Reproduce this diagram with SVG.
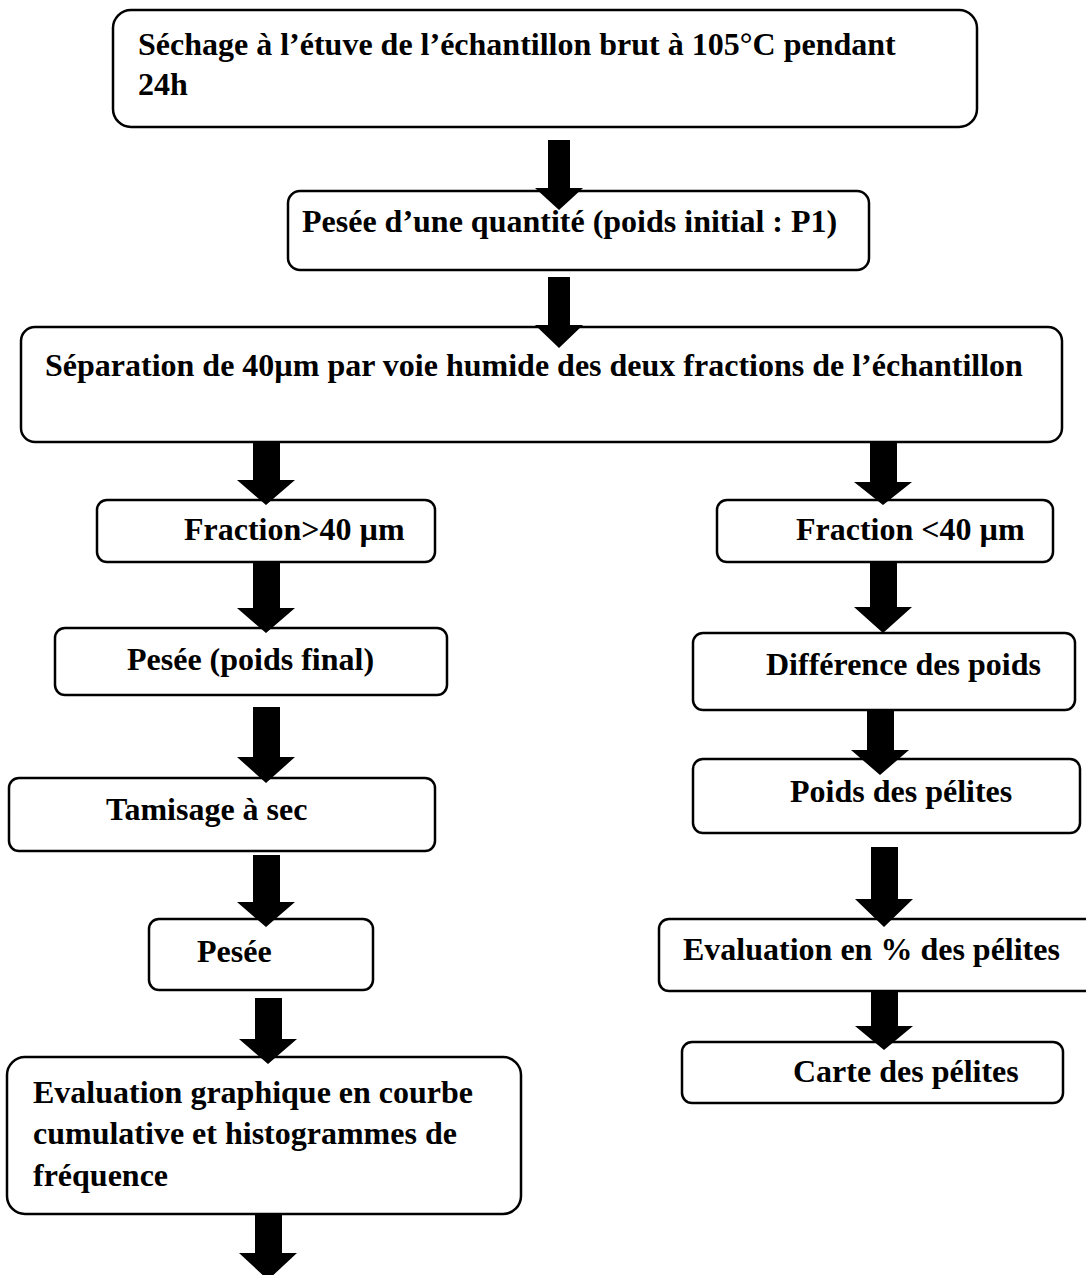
<svg xmlns="http://www.w3.org/2000/svg" width="1086" height="1275" viewBox="0 0 1086 1275">
<style>
.box{fill:#fff;stroke:#000;stroke-width:2.5}
.t{font-family:"Liberation Serif","Times New Roman",serif;font-weight:bold;font-size:32px;fill:#000}
.arr{fill:#000}
</style>
<rect width="1086" height="1275" fill="#fff"/>
<g id="n1"><rect class="box" x="113" y="10" width="864" height="117" rx="18"/>
<text class="t" x="138" y="55">Séchage à l’étuve de l’échantillon brut à 105°C pendant</text>
<text class="t" x="138" y="95">24h</text></g>
<g id="n2"><rect class="box" x="288" y="191" width="581" height="79" rx="12"/>
<text class="t" x="302" y="232">Pesée d’une quantité (poids initial : P1)</text></g>
<g id="n3"><rect class="box" x="21" y="327" width="1041" height="115" rx="14"/>
<text class="t" x="45" y="376">Séparation de 40µm par voie humide des deux fractions de l’échantillon</text></g>
<g id="n4"><rect class="box" x="97" y="500" width="338" height="62" rx="10"/>
<text class="t" x="184" y="540">Fraction&gt;40 µm</text></g>
<g id="n5"><rect class="box" x="717" y="500" width="336" height="62" rx="10"/>
<text class="t" x="796" y="540">Fraction &lt;40 µm</text></g>
<g id="n6"><rect class="box" x="55" y="628" width="392" height="67" rx="10"/>
<text class="t" x="127" y="670">Pesée (poids final)</text></g>
<g id="n7"><rect class="box" x="693" y="633" width="382" height="77" rx="10"/>
<text class="t" x="766" y="675">Différence des poids</text></g>
<g id="n8"><rect class="box" x="9" y="778" width="426" height="73" rx="10"/>
<text class="t" x="106" y="820">Tamisage à sec</text></g>
<g id="n9"><rect class="box" x="693" y="759" width="387" height="74" rx="10"/>
<text class="t" x="790" y="802">Poids des pélites</text></g>
<g id="n10"><rect class="box" x="149" y="919" width="224" height="71" rx="10"/>
<text class="t" x="197" y="962">Pesée</text></g>
<g id="n11"><rect class="box" x="659" y="919" width="441" height="72" rx="10"/>
<text class="t" x="683" y="960">Evaluation en % des pélites</text></g>
<g id="n12"><rect class="box" x="7" y="1057" width="514" height="157" rx="18"/>
<text class="t" x="33" y="1103">Evaluation graphique en courbe</text>
<text class="t" x="33" y="1144">cumulative et histogrammes de</text>
<text class="t" x="33" y="1186">fréquence</text></g>
<g id="n13"><rect class="box" x="682" y="1042" width="381" height="61" rx="10"/>
<text class="t" x="793" y="1082">Carte des pélites</text></g>
<g id="connectors">
<path class="arr" d="M548 140H570V188H583L559 210L535 188H548Z"/>
<path class="arr" d="M548 277H570V325H583L559 348L535 325H548Z"/>
<path class="arr" d="M253 442H280V480H295L266 505L237 480H253Z"/>
<path class="arr" d="M870 442H897V482H912L883 505L854 482H870Z"/>
<path class="arr" d="M253 563H280V608H295L266 633L237 608H253Z"/>
<path class="arr" d="M870 563H897V607H912L883 633L854 607H870Z"/>
<path class="arr" d="M253 707H280V757H295L266 783L237 757H253Z"/>
<path class="arr" d="M867 710H894V750H909L880 775L851 750H867Z"/>
<path class="arr" d="M253 855H280V902H295L266 927L237 902H253Z"/>
<path class="arr" d="M871 847H898V899H913L884 927L855 899H871Z"/>
<path class="arr" d="M255 998H282V1039H297L268 1064L239 1039H255Z"/>
<path class="arr" d="M871 991H898V1026H913L884 1050L855 1026H871Z"/>
<path class="arr" d="M255 1214H282V1253H297L268 1280L239 1253H255Z"/>
</g>
</svg>
